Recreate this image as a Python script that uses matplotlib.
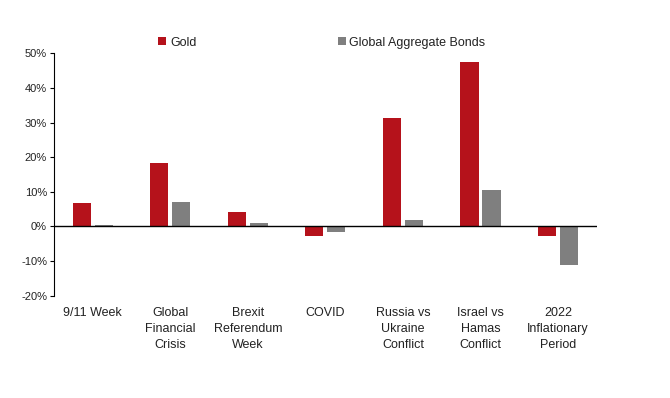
import matplotlib
matplotlib.use("Agg")
import matplotlib.pyplot as plt
import numpy as np

plt.rcParams["font.family"] = ["Liberation Sans", "DejaVu Sans"]

# values (% change)
categories = ["9/11 Week", "Global\nFinancial\nCrisis", "Brexit\nReferendum\nWeek", "COVID",
              "Russia vs\nUkraine\nConflict", "Israel vs\nHamas\nConflict", "2022\nInflationary\nPeriod"]
gold = [6.7, 18.3, 4.1, -2.7, 31.3, 47.5, -2.7]
bonds = [0.4, 7.0, 1.0, -1.5, 1.8, 10.5, -11.1]

RED = "#B5121B"
GREY = "#7F7F7F"
TXT = "#222222"

fig = plt.figure(figsize=(6.7, 3.98), dpi=100)
ax = fig.add_axes([0.0806, 0.257, 0.810, 0.609])

x = np.arange(len(categories))
w = 0.235
ax.bar(x - 0.142, gold, w, color=RED, label="Gold")
ax.bar(x + 0.142, bonds, w, color=GREY, label="Global Aggregate Bonds")

ax.set_xlim(-0.5, len(categories) - 0.5)
ax.set_ylim(-20, 50)
ax.set_yticks(np.arange(-20, 51, 10))
ax.set_yticklabels([f"{v}%" for v in range(-20, 51, 10)], fontsize=8, color=TXT)
ax.axhline(0, color="black", lw=1)

ax.set_xticks(x)
ax.set_xticklabels(categories, fontsize=9, linespacing=1.45, va="top", color=TXT)
ax.tick_params(axis="x", length=0, pad=8)
ax.tick_params(axis="y", length=3, width=0.8, pad=2, direction="out")

for s in ["top", "right", "bottom"]:
    ax.spines[s].set_visible(False)
ax.spines["left"].set_linewidth(0.8)

leg = fig.legend(loc="lower left", bbox_to_anchor=(0.236, 0.878), ncol=2, frameon=False,
                 fontsize=9, handlelength=0.65, handleheight=0.65, handletextpad=0.3,
                 columnspacing=11.3, borderaxespad=0, borderpad=0)
for t in leg.get_texts():
    t.set_color(TXT)

fig.savefig("out.png", dpi=100, facecolor="white")
